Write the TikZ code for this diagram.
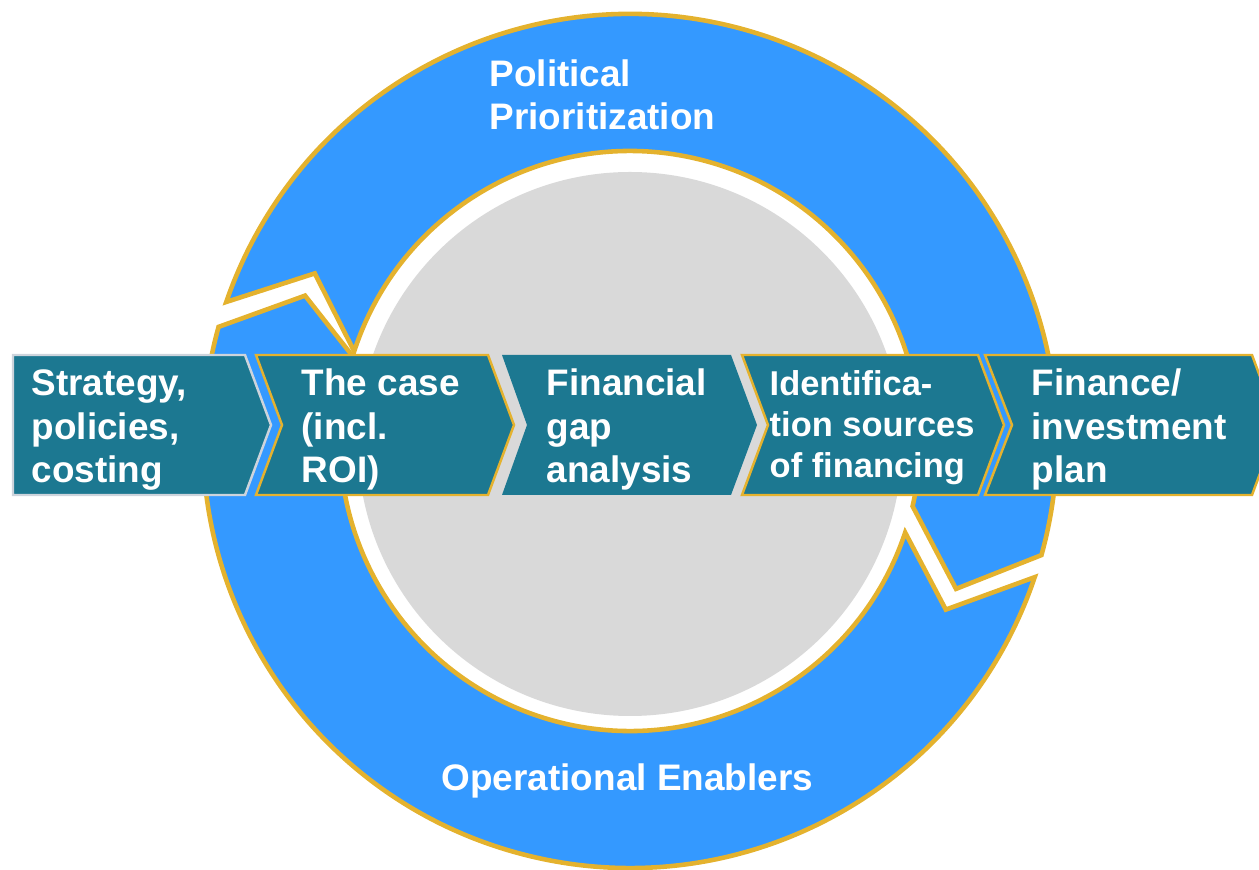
\documentclass[tikz,border=0pt]{standalone}
\usepackage{fontspec}
\setsansfont{Liberation Sans}
\usepackage{tikz}
\usetikzlibrary{positioning,calc}

\definecolor{ringblue}{RGB}{52,153,255}
\definecolor{ringgold}{RGB}{228,178,46}
\definecolor{chevteal}{RGB}{28,120,145}
\definecolor{hubgray}{RGB}{217,217,217}
\definecolor{chevsilver}{RGB}{205,212,220}

\tikzset{
	ringpart/.style={fill=ringblue, draw=ringgold, line width=1.3pt, line join=miter},
	chev/.style={fill=chevteal, draw=ringgold, line width=0.7pt},
	steptext/.style={text=white, font=\sffamily\bfseries\fontsize{10.5}{12.5}\selectfont, align=left, anchor=base west, inner sep=0pt},
}

% chevron: [style] {left x} {right x} {notch depth}
\newcommand{\chevron}[4][]{%
	\draw[chev,#1] (#2,5.14) -- (#3,5.14) -- (#3+0.26,4.44) -- (#3,3.74) -- (#2,3.74) -- (#2+#4,4.44) -- cycle;%
}

\begin{document}
\begin{tikzpicture}
	\useasboundingbox (0,0) rectangle (12.59,8.69);
	\coordinate (hub) at (6.30,4.28);

	\begin{scope}[shift={(hub)}]
		\draw[ringpart] (161:4.27) arc[start angle=161, end angle=-15.5, radius=4.27] -- (-24.4:3.58) -- (-13:2.90) arc[start angle=-13, end angle=162, radius=2.90] -- (152:3.57) -- cycle;
		\draw[ringpart] (164.5:4.27) arc[start angle=164.5, end angle=341.4, radius=4.27] -- (331.9:3.58) -- (341.6:2.90) arc[start angle=341.6, end angle=163, radius=2.90] -- (155.9:3.56) -- cycle;
	\end{scope}
	\fill[hubgray] (6.30,4.25) circle (2.72);

	\chevron[draw=chevsilver]{0.13}{2.45}{0}
	\chevron{2.56}{4.88}{0.26}
	\chevron[draw=none]{5.02}{7.31}{0.25}
	\chevron{7.42}{9.78}{0.26}
	\chevron{9.85}{12.52}{0.27}

	% base anchor sits on the last line
	\node[steptext] (strategy) at (0.31,3.86) {Strategy,\\policies,\\costing};
	\node[steptext] (thecase) at (3.01,3.86) {The case\\(incl.\\ROI)};
	\node[steptext] (gapanalysis) at (5.46,3.86) {Financial\\gap\\analysis};
	\node[steptext, font=\sffamily\bfseries\fontsize{9.8}{11.7}\selectfont] (sources) at (7.69,3.91) {Identifica-\\tion sources\\of financing};
	\node[steptext] (investplan) at (10.31,3.86) {Finance/\\investment\\plan};

	\node[steptext] (political) at (4.89,7.39) {Political\\Prioritization};
	\node[steptext] (operational) at (4.41,0.79) {Operational Enablers};
\end{tikzpicture}
\end{document}
